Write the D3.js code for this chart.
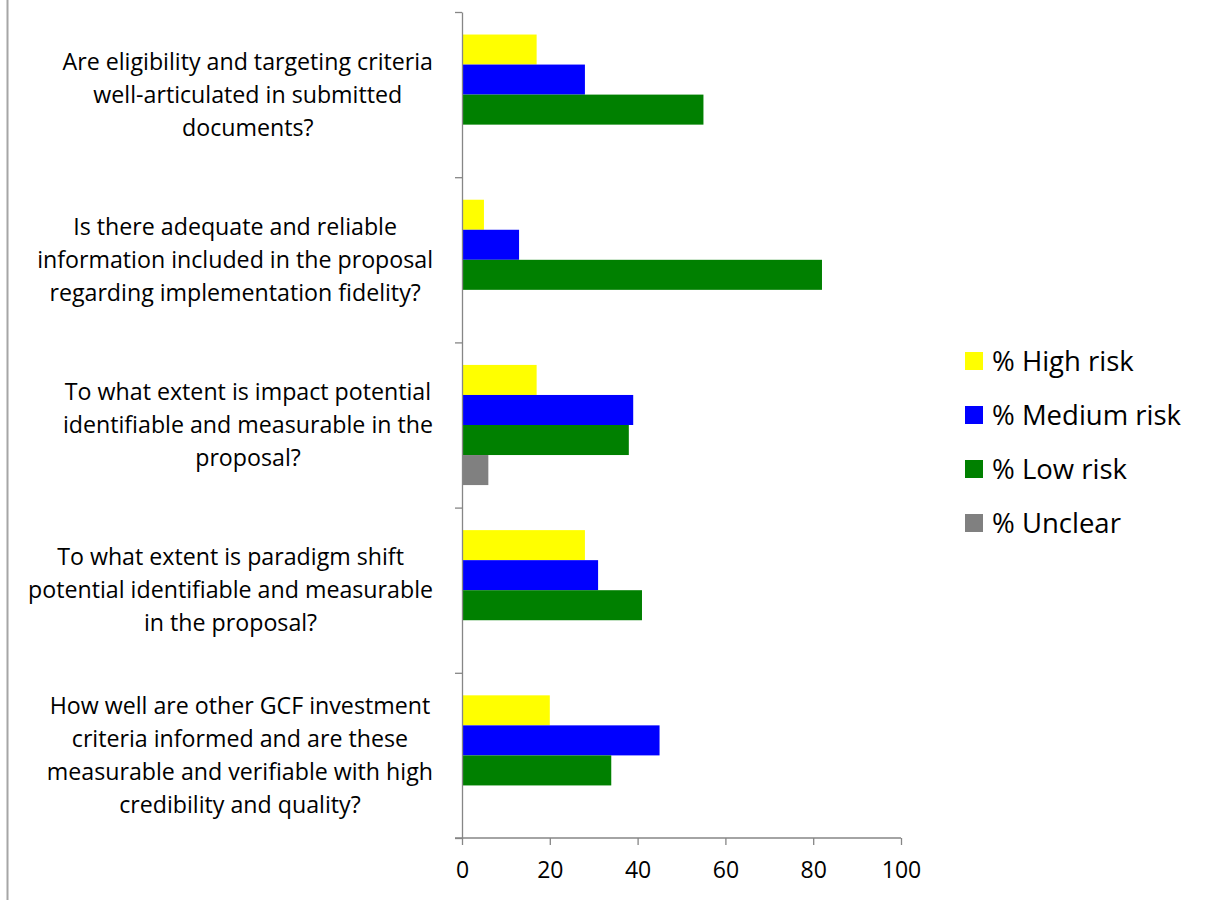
<!DOCTYPE html>
<html>
<head>
<meta charset="utf-8">
<script src="https://cdn.jsdelivr.net/npm/d3@7"></script>
<style>
  body { margin: 0; background: #fff; }
  text { font-family: "Open Sans", sans-serif; fill: #000; }
</style>
</head>
<body>
<svg id="chart" width="1205" height="900"></svg>
<script>
// questions, top to bottom (each entry is the wrapped lines)
var questions = [
    ["Are eligibility and targeting criteria", "well-articulated in submitted", "documents?"],
    ["Is there adequate and reliable", "information included in the proposal", "regarding implementation fidelity?"],
    ["To what extent is impact potential", "identifiable and measurable in the", "proposal?"],
    ["To what extent is paradigm shift", "potential identifiable and measurable", "in the proposal?"],
    ["How well are other GCF investment", "criteria informed and are these", "measurable and verifiable with high", "credibility and quality?"]
];
var seriesNames = ["% High risk", "% Medium risk", "% Low risk", "% Unclear"];
var seriesColors = ["#ffff00", "#0000ff", "#008000", "#808080"];

var highRisk   = [17, 5, 17, 28, 20];
var mediumRisk = [28, 13, 39, 31, 45];
var lowRisk    = [55, 82, 38, 41, 34];
var unclear    = [0, 0, 6, 0, 0];
var xTicks = [0, 20, 40, 60, 80, 100];

var series = [highRisk, mediumRisk, lowRisk, unclear];

var svg = d3.select("#chart");
var plotLeft = 462, plotRight = 901, plotTop = 12, plotBottom = 838;
var axisColor = "#868686";

// frame line on the left
svg.append("line")
    .attr("x1", 7.5).attr("x2", 7.5).attr("y1", 0).attr("y2", 900)
    .attr("stroke", "#a6a6a6").attr("stroke-width", 2);

var x = d3.scaleLinear().domain([0, 100]).range([plotLeft, plotRight]);
var y = d3.scaleBand().domain(d3.range(questions.length)).range([plotTop, plotBottom]).padding(0);
var ySub = d3.scaleBand().domain(d3.range(series.length)).range([0, y.bandwidth()])
    .paddingInner(0).paddingOuter(0.75);

// bars
series.forEach(function (vals, s) {
    svg.append("g").selectAll("rect")
        .data(vals)
        .enter().append("rect")
        .attr("x", x(0))
        .attr("y", function (d, i) { return y(i) + ySub(s); })
        .attr("width", function (d) { return x(d) - x(0); })
        .attr("height", ySub.bandwidth())
        .attr("fill", seriesColors[s]);
});

// y axis with ticks at band edges
var yAxis = d3.scaleLinear().domain([0, questions.length]).range([plotTop, plotBottom]);
svg.append("g")
    .attr("transform", "translate(" + plotLeft + ",0)")
    .call(d3.axisLeft(yAxis).tickValues(d3.range(questions.length + 1)).tickSize(7).tickSizeOuter(0).tickFormat(""))
    .call(function (g) {
        g.selectAll("path, line").attr("stroke", axisColor).attr("stroke-width", 1.3);
    });

// x axis
svg.append("g")
    .attr("transform", "translate(0," + plotBottom + ")")
    .call(d3.axisBottom(x).tickValues(xTicks).tickSize(7).tickSizeOuter(0).tickPadding(17))
    .call(function (g) {
        g.attr("font-family", null).attr("font-size", null);
        g.select(".domain").attr("d", "M" + (plotLeft - 7) + ",0H" + plotRight);
        g.selectAll("path, line").attr("stroke", axisColor).attr("stroke-width", 1.3);
        g.selectAll("text").attr("font-size", 23).attr("fill", "#000");
    });

// category labels: each block centred on its widest line, block right-aligned near the axis
var lineH = 33, labelRight = 433;
questions.forEach(function (lines, i) {
    var cy = y(i) + y.bandwidth() / 2;
    var t = svg.append("text")
        .attr("text-anchor", "middle")
        .attr("font-size", 23.2);
    var spans = lines.map(function (ln, k) {
        return t.append("tspan")
            .attr("y", cy + (k - (lines.length - 1) / 2) * lineH)
            .attr("dy", "0.35em")
            .text(ln);
    });
    var maxW = d3.max(spans, function (s) { return s.node().getComputedTextLength(); });
    spans.forEach(function (s) { s.attr("x", labelRight - maxW / 2); });
});

// legend
var legend = svg.append("g").attr("transform", "translate(965,361)");
seriesNames.forEach(function (name, i) {
    var g = legend.append("g").attr("transform", "translate(0," + i * 54 + ")");
    g.append("rect").attr("x", 0).attr("y", -9).attr("width", 18).attr("height", 18)
        .attr("fill", seriesColors[i]);
    g.append("text").attr("x", 27).attr("y", 0).attr("dy", "0.35em")
        .attr("font-size", 27.5).text(name);
});
</script>
</body>
</html>
